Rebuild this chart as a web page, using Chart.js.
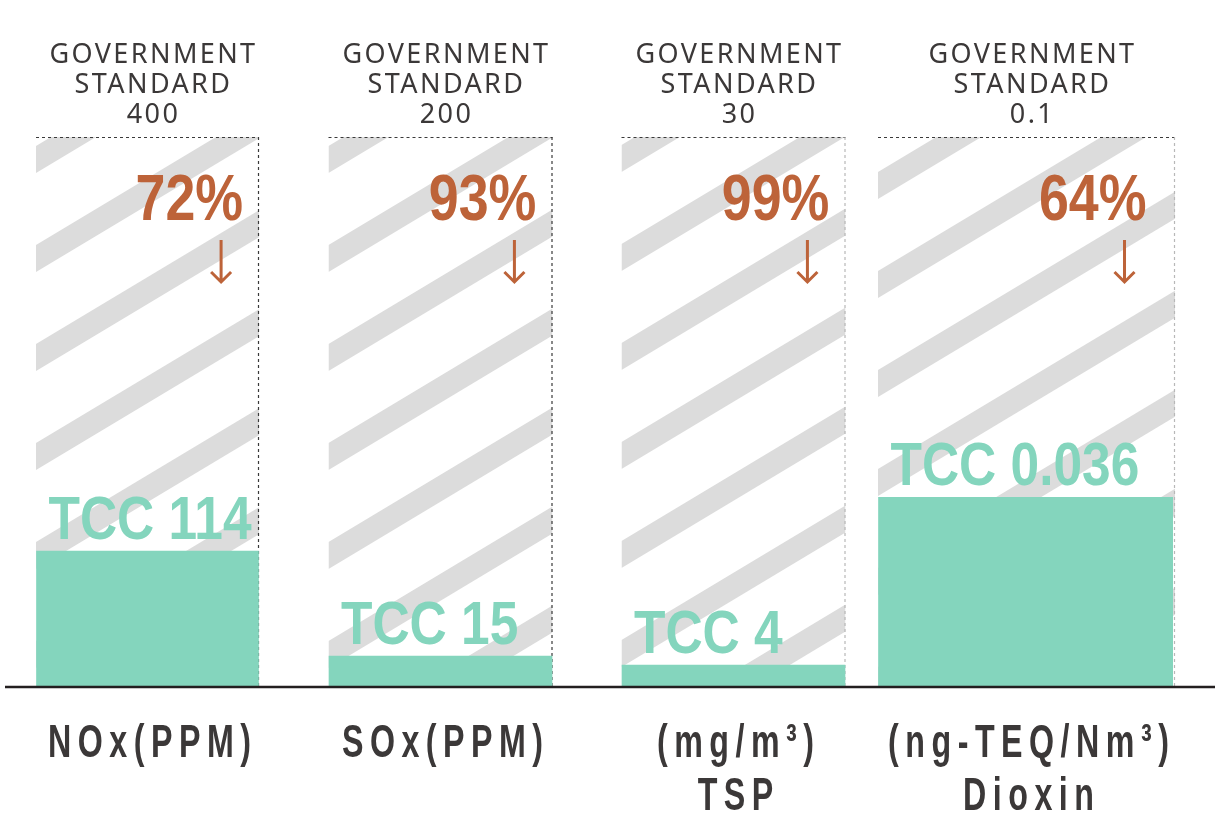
<!DOCTYPE html>
<html>
<head>
<meta charset="utf-8">
<script src="https://cdn.jsdelivr.net/npm/chart.js@4.4.1/dist/chart.umd.min.js"></script>
<style>
  html, body { margin: 0; padding: 0; background: #ffffff; }
  #wrap { width: 1222px; height: 832px; position: relative; }
</style>
</head>
<body>
<div id="wrap"><canvas id="emissionChart"></canvas></div>
<script>
// Chart data
const categories = ['NOx', 'SOx', 'TSP', 'Dioxin'];
const categoryLines = [['NOx(PPM)'], ['SOx(PPM)'], ['(mg/m³)', 'TSP'], ['(ng-TEQ/Nm³)', 'Dioxin']];
const governmentStandards = ['400', '200', '30', '0.1'];
const tccLabels = ['TCC 114', 'TCC 15', 'TCC 4', 'TCC 0.036'];
const reductions = ['72%', '93%', '99%', '64%'];
const standardLevel = [100, 100, 100, 100];   // standard = full height
const tccLevel = [24.7, 5.6, 4.0, 34.5];       // TCC level as % of bar height

// Styling per bar
const barWidths = [223, 224, 224, 297];
const stripeOffsets = [9, 9, 8, 35];
const rightEdgeColors = ['#3a3a3a', '#3a3a3a', '#b8b8b8', '#b8b8b8'];

const TEAL = '#84d5bd';
const RUST = '#bd6339';
const DARK = '#3b3838';
const BOLD = '"Liberation Sans", Arial, sans-serif';

document.addEventListener('DOMContentLoaded', function() {
    const canvas = document.getElementById('emissionChart');

    // one standard + one TCC dataset per category so each bar can have its own width
    const datasets = [];
    categories.forEach(function(cat, i) {
        const only = arr => arr.map((v, j) => (j === i ? v : null));
        datasets.push({
            label: 'Government standard ' + cat,
            data: only(standardLevel),
            backgroundColor: '#ffffff',
            borderWidth: 0,
            barThickness: barWidths[i],
            grouped: false,
            order: 2,
            kind: 'standard',
            cat: i
        });
        datasets.push({
            label: 'TCC ' + cat,
            data: only(tccLevel),
            backgroundColor: TEAL,
            borderWidth: 0,
            barThickness: barWidths[i] - 1,
            grouped: false,
            order: 1,
            kind: 'tcc',
            cat: i
        });
    });

    function drawStripes(ctx, left, top, right, bottom, offset) {
        const slope = 0.6, period = 99, thick = 27;
        const w = right - left;
        ctx.save();
        ctx.beginPath();
        ctx.rect(left, top, w, bottom - top);
        ctx.clip();
        ctx.fillStyle = '#dcdcdc';
        for (let k = -2; k <= 10; k++) {
            const y0 = top + offset + k * period;
            ctx.beginPath();
            ctx.moveTo(left, y0);
            ctx.lineTo(right, y0 - slope * w);
            ctx.lineTo(right, y0 - slope * w + thick);
            ctx.lineTo(left, y0 + thick);
            ctx.closePath();
            ctx.fill();
        }
        ctx.restore();
    }

    // condensed look: squeeze a normal bold face horizontally
    function squeezedText(ctx, text, x, y, align, sx, spacing) {
        ctx.save();
        ctx.translate(x, y);
        ctx.scale(sx, 1);
        ctx.textAlign = align;
        ctx.letterSpacing = (spacing || 0) / sx + 'px';
        let dx = 0;
        if (spacing && align === 'center') dx = spacing / sx / 2;
        ctx.fillText(text, dx, 0);
        ctx.restore();
    }

    const decorPlugin = {
        id: 'decor',
        afterDatasetDraw(chart, args) {
            const ds = chart.data.datasets[args.index];
            if (ds.kind !== 'standard') return;
            const el = args.meta.data[ds.cat];
            if (!el) return;
            const ctx = chart.ctx;
            const left = el.x - el.width / 2, right = el.x + el.width / 2;
            drawStripes(ctx, left, el.y, right, el.base, stripeOffsets[ds.cat]);

            // dotted top and right edges
            ctx.save();
            ctx.lineWidth = 1.2;
            ctx.setLineDash([3, 3]);
            ctx.strokeStyle = '#3a3a3a';
            ctx.beginPath();
            ctx.moveTo(left, el.y + 0.5);
            ctx.lineTo(right, el.y + 0.5);
            ctx.stroke();
            ctx.strokeStyle = rightEdgeColors[ds.cat];
            ctx.beginPath();
            ctx.moveTo(right - 0.5, el.y);
            ctx.lineTo(right - 0.5, el.base);
            ctx.stroke();
            ctx.restore();
        },
        afterDatasetsDraw(chart) {
            const ctx = chart.ctx;
            const yScale = chart.scales.y;
            const baseY = yScale.getPixelForValue(0);

            // baseline
            ctx.save();
            ctx.strokeStyle = '#231f20';
            ctx.lineWidth = 2.5;
            ctx.beginPath();
            ctx.moveTo(5, baseY);
            ctx.lineTo(chart.width - 7, baseY);
            ctx.stroke();
            ctx.restore();

            chart.data.datasets.forEach(function(ds, di) {
                const el = chart.getDatasetMeta(di).data[ds.cat];
                if (!el) return;
                const i = ds.cat;
                const left = el.x - el.width / 2;
                ctx.save();
                ctx.textBaseline = 'alphabetic';
                if (ds.kind === 'standard') {
                    // government standard heading
                    ctx.fillStyle = DARK;
                    ctx.textAlign = 'center';
                    ctx.font = '27px "Noto Sans", sans-serif';
                    ctx.letterSpacing = '2.4px';
                    ctx.fillText('GOVERNMENT', el.x + 6, el.y - 74);
                    ctx.fillText('STANDARD', el.x + 6, el.y - 44);
                    ctx.fillText(governmentStandards[i], el.x + 6, el.y - 14);
                    ctx.letterSpacing = '0px';

                    // reduction percent + arrow
                    const arrowX = left + 0.83 * el.width;
                    ctx.fillStyle = RUST;
                    ctx.font = 'bold 64px ' + BOLD;
                    squeezedText(ctx, reductions[i], arrowX + 22, el.y + 83, 'right', 0.84);
                    ctx.strokeStyle = RUST;
                    ctx.lineWidth = 3;
                    ctx.beginPath();
                    ctx.moveTo(arrowX, el.y + 103);
                    ctx.lineTo(arrowX, el.y + 145);
                    ctx.moveTo(arrowX - 10, el.y + 135);
                    ctx.lineTo(arrowX, el.y + 145);
                    ctx.lineTo(arrowX + 10, el.y + 135);
                    ctx.stroke();

                    // category label under the axis
                    ctx.fillStyle = DARK;
                    ctx.font = 'bold 46px ' + BOLD;
                    categoryLines[i].forEach(function(line, li) {
                        squeezedText(ctx, line, el.x + 2, baseY + 70 + li * 53, 'center', 0.7, 6.5);
                    });
                } else {
                    ctx.fillStyle = TEAL;
                    ctx.font = 'bold 62px ' + BOLD;
                    squeezedText(ctx, tccLabels[i], left + 12, el.y - 12, 'left', 0.83);
                }
                ctx.restore();
            });
        }
    };

    new Chart(canvas.getContext('2d'), {
        type: 'bar',
        data: { labels: categories, datasets: datasets },
        options: {
            responsive: true,
            maintainAspectRatio: false,
            animation: false,
            events: [],
            layout: { padding: { left: 1, right: 49, top: 137, bottom: 145 } },
            plugins: {
                legend: { display: false },
                tooltip: { enabled: false }
            },
            scales: {
                x: { display: false },
                y: { display: false, min: 0, max: 100 }
            }
        },
        plugins: [decorPlugin]
    });
});
</script>
</body>
</html>
